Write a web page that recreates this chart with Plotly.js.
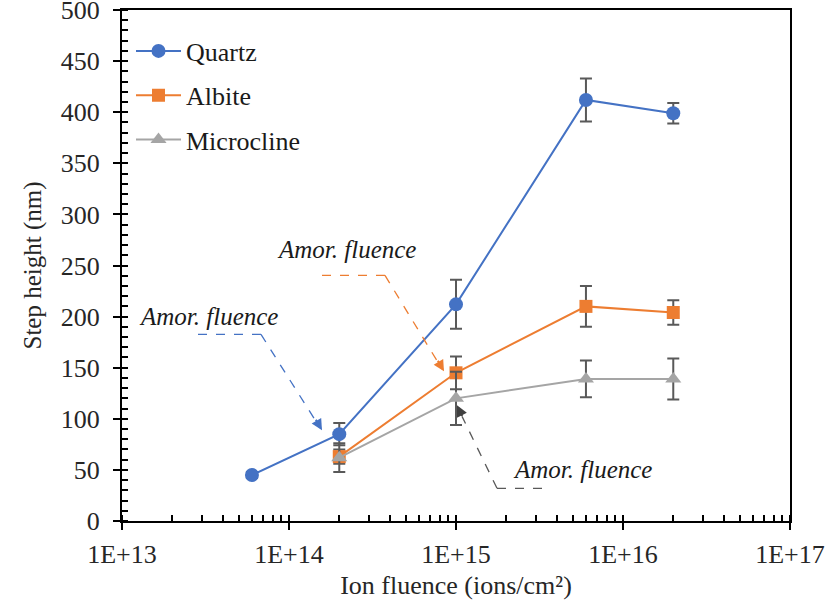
<!DOCTYPE html>
<html>
<head>
<meta charset="utf-8">
<script src="https://cdn.plot.ly/plotly-3.0.1.min.js"></script>
<style>html,body{margin:0;padding:0;background:#fff;}#chart{width:827px;height:606px;}</style>
</head>
<body>
<div id="chart"></div>
<script>
// ---- data ----
const fluenceQuartz = [6e13, 2e14, 1e15, 6e15, 2e16];
const quartzHeight  = [45, 85, 212, 412, 399];
const quartzErr     = [3, 11, 24, 21, 10];

const fluenceAlbite = [2e14, 1e15, 6e15, 2e16];
const albiteHeight  = [63, 145, 210, 204];
const albiteErr     = [7, 16, 20, 12];

const fluenceMicro  = [2e14, 1e15, 6e15, 2e16];
const microHeight   = [62, 120, 139, 139];
const microErr      = [14, 26, 18, 20];

const xTickVals  = [1e13, 1e14, 1e15, 1e16, 1e17];
const xTickText  = ['1E+13', '1E+14', '1E+15', '1E+16', '1E+17'];
const yTickVals  = [0, 50, 100, 150, 200, 250, 300, 350, 400, 450, 500];
const annoText   = 'Amor. fluence';

// ---- styling ----
const FONT = '"Liberation Serif", "Times New Roman", Times, serif';
const W = 827, H = 606;
const L = 122, R = 790, T = 9.5, B = 520.7;
const px = x => (x - L) / (R - L);
const py = y => (B - y) / (B - T);

function errStyle(arr){
  return {type:'data', array:arr, visible:true, color:'#595959', thickness:2, width:6};
}

const traces = [
  {x:fluenceQuartz, y:quartzHeight, name:'Quartz', mode:'lines+markers', type:'scatter',
   line:{color:'#4472C4', width:2}, marker:{symbol:'circle', size:14, color:'#4472C4'},
   error_y:errStyle(quartzErr), legendgroup:'a'},
  {x:fluenceAlbite, y:albiteHeight, name:'Albite', mode:'lines+markers', type:'scatter',
   line:{color:'#ED7D31', width:2}, marker:{symbol:'square', size:13, color:'#ED7D31'},
   error_y:errStyle(albiteErr), legendgroup:'b'},
  {x:fluenceMicro, y:microHeight, name:'Microcline', mode:'lines+markers', type:'scatter',
   line:{color:'#A5A5A5', width:2}, marker:{symbol:'triangle-up', size:14, color:'#A5A5A5'},
   error_y:errStyle(microErr), legendgroup:'c'},
  // dummy trace to activate the overlay axes (inner half of the crossing major ticks)
  {x:[1e13], y:[0], xaxis:'x2', yaxis:'y2', mode:'markers', marker:{opacity:0},
   showlegend:false, hoverinfo:'skip'}
];

// annotation callouts (elbow dashed lines + arrowheads)
const callouts = [
  {text:[208,316], path:[[198,334],[261,334],[316,421]], tip:[322,430], back:[-7,-12], color:'#4472C4', head:'#4472C4'},
  {text:[346,249], path:[[322,275],[385,275],[438,362]], tip:[444,371], back:[-7,-12], color:'#ED7D31', head:'#ED7D31'},
  {text:[582,469], path:[[542,488],[497,488],[462,416]], tip:[457,405], back:[6,12], color:'#595959', head:'#404040'}
];

const shapes = [];
const annotations = [];
callouts.forEach(c => {
  for(let i=0;i<c.path.length-1;i++){
    shapes.push({type:'line', xref:'paper', yref:'paper',
      x0:px(c.path[i][0]), y0:py(c.path[i][1]), x1:px(c.path[i+1][0]), y1:py(c.path[i+1][1]),
      line:{color:c.color, width:1.3, dash:'dash'}});
  }
  annotations.push({xref:'paper', yref:'paper', x:px(c.text[0]), y:py(c.text[1]),
    text:'<i>'+annoText+'</i>', showarrow:false, xanchor:'center', yanchor:'middle',
    font:{family:FONT, size:25, color:'#1a1a1a'}});
  annotations.push({xref:'paper', yref:'paper', x:px(c.tip[0]), y:py(c.tip[1]), text:'',
    showarrow:true, arrowhead:2, arrowsize:1.1, arrowwidth:2, arrowcolor:c.head,
    ax:c.back[0], ay:c.back[1], standoff:0});
});

const axisCommon = {
  showgrid:false, zeroline:false, showline:true, linecolor:'#000', linewidth:2,
  mirror:true, ticks:'outside', ticklen:7, tickwidth:2, tickcolor:'#000',
  ticklabeloverflow:'allow',
  tickfont:{family:FONT, size:26, color:'#262626'}
};

const layout = {
  width:W, height:H,
  margin:{l:L, r:W-R, t:T, b:H-B, pad:0},
  paper_bgcolor:'#fff', plot_bgcolor:'#fff',
  showlegend:true,
  legend:{x:px(131), y:py(27), xanchor:'left', yanchor:'top',
    font:{family:FONT, size:26, color:'#1a1a1a'}, bgcolor:'rgba(0,0,0,0)',
    traceorder:'grouped', tracegroupgap:7.5, itemwidth:45},
  xaxis:Object.assign({}, axisCommon, {
    type:'log', range:[13,17], tickvals:xTickVals, ticktext:xTickText,
    ticklabelstandoff:2,
    minor:{ticks:'inside', ticklen:6, tickwidth:2, tickcolor:'#000', dtick:'D1', showgrid:false},
    title:{text:'Ion fluence (ions/cm²)', font:{family:FONT, size:26, color:'#262626'}, standoff:8}
  }),
  yaxis:Object.assign({}, axisCommon, {
    range:[0,500], tickmode:'array', tickvals:yTickVals, ticklabelstandoff:8,
    minor:{ticks:'inside', ticklen:6, tickwidth:2, tickcolor:'#000', dtick:10, tick0:0, showgrid:false},
    title:{text:'Step height (nm)', font:{family:FONT, size:25, color:'#262626'}, standoff:12}
  }),
  xaxis2:{type:'log', range:[13,17], overlaying:'x', tickvals:xTickVals, showticklabels:false,
    ticks:'inside', ticklen:6, tickwidth:2, tickcolor:'#000', showgrid:false, zeroline:false,
    showline:false, anchor:'y2', side:'bottom'},
  yaxis2:{range:[0,500], overlaying:'y', tickmode:'array', tickvals:yTickVals, showticklabels:false,
    ticks:'inside', ticklen:6, tickwidth:2, tickcolor:'#000', showgrid:false, zeroline:false,
    showline:false, anchor:'x2', side:'left'},
  shapes:shapes,
  annotations:annotations
};

Plotly.newPlot('chart', traces, layout, {displayModeBar:false, staticPlot:true});
</script>
</body>
</html>
